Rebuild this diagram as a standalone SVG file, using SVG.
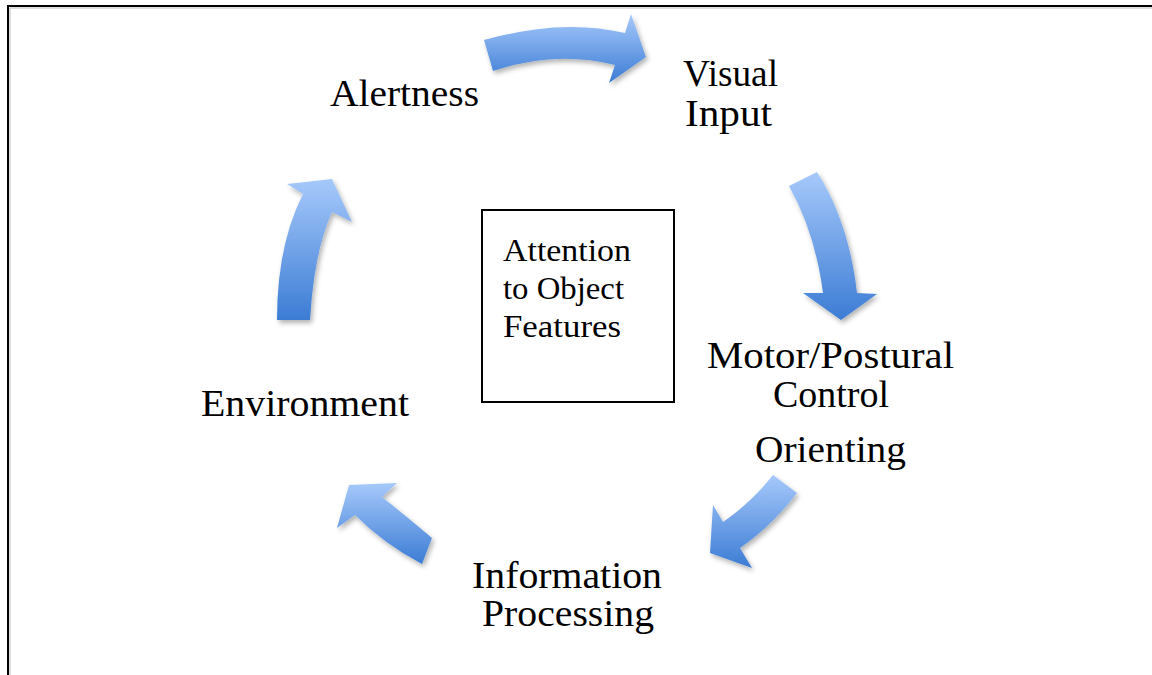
<svg xmlns="http://www.w3.org/2000/svg" width="1152" height="675" viewBox="0 0 1152 675">
<defs>
<linearGradient id="blue" x1="0" y1="0" x2="0" y2="1">
<stop offset="0" stop-color="#a6c9fb"/>
<stop offset="1" stop-color="#3c7cd4"/>
</linearGradient>
<filter id="sh" x="-20%" y="-20%" width="150%" height="150%">
<feDropShadow dx="2" dy="3" stdDeviation="2.5" flood-color="#000" flood-opacity="0.3"/>
</filter>
<style>
.lbl{font-family:"Liberation Serif","Times New Roman",serif;font-size:37px;fill:#000}
.box{font-family:"Liberation Serif","Times New Roman",serif;font-size:32px;fill:#000}
.arr{fill:url(#blue);filter:url(#sh)}
</style>
</defs>
<rect width="1152" height="675" fill="#fff"/>
<path d="M8,677 V6 H1154" fill="none" stroke="#000" stroke-width="2"/>
<path d="M10,677 V8 H1154" fill="none" stroke="#bbb" stroke-width="1"/>

<g id="connectors">
<path class="arr" d="M484,40 Q562,18 625,33 L631,14 L646,57 L609,83 L615,65 Q555,50 493,71 Z"/>
<path class="arr" d="M789,186 L817,172 Q849,222 857,293 L877,294 L841,320 L803,293 L823,293 Q815,232 789,186 Z"/>
<path class="arr" d="M773,475 L797,493 Q772,526 740,548 L752,568 L710,553 L713,505 L723,522 Q752,502 773,475 Z"/>
<path class="arr" d="M349,485 L397,483 L382,497 Q406,516 432,538 L422,564 Q384,544 355,515 L337,528 Z"/>
<path class="arr" d="M277,320 Q277,245 303,194 L287,184 L332,179 L352,222 L332,212 Q314,252 310,320 Z"/>
</g>

<g id="alertness"><text class="lbl" x="330" y="106" textLength="149" lengthAdjust="spacingAndGlyphs">Alertness</text></g>
<g id="visual-input">
<text class="lbl" x="683" y="86" textLength="95" lengthAdjust="spacingAndGlyphs">Visual</text>
<text class="lbl" x="685" y="126" textLength="87" lengthAdjust="spacingAndGlyphs">Input</text>
</g>
<g id="motor-postural-control">
<text class="lbl" x="707" y="368" textLength="247" lengthAdjust="spacingAndGlyphs">Motor/Postural</text>
<text class="lbl" x="773" y="407" textLength="116" lengthAdjust="spacingAndGlyphs">Control</text>
</g>
<g id="orienting"><text class="lbl" x="755" y="462" textLength="151" lengthAdjust="spacingAndGlyphs">Orienting</text></g>
<g id="information-processing">
<text class="lbl" x="472" y="588" textLength="190" lengthAdjust="spacingAndGlyphs">Information</text>
<text class="lbl" x="482" y="626" textLength="172" lengthAdjust="spacingAndGlyphs">Processing</text>
</g>
<g id="environment"><text class="lbl" x="201" y="416" textLength="208" lengthAdjust="spacingAndGlyphs">Environment</text></g>
<g id="attention">
<rect x="482" y="210" width="192" height="192" fill="#fff" stroke="#000" stroke-width="2"/>
<text class="box" x="503" y="261" textLength="128" lengthAdjust="spacingAndGlyphs">Attention</text>
<text class="box" x="503" y="299" textLength="121" lengthAdjust="spacingAndGlyphs">to Object</text>
<text class="box" x="503" y="337" textLength="118" lengthAdjust="spacingAndGlyphs">Features</text>
</g>
</svg>
